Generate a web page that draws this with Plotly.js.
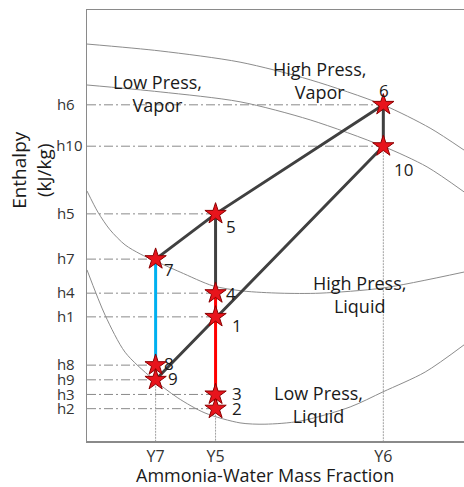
<!DOCTYPE html>
<html>
<head>
<meta charset="utf-8">
<script src="https://cdn.plot.ly/plotly-3.0.1.min.js"></script>
<style>html,body{margin:0;padding:0;background:#fff;}#chart{width:464px;height:487px;}</style>
</head>
<body>
<div id="chart"></div>
<script>
// ---- data (arbitrary schematic units 0..100) ----
const pointNames = ['1','2','3','4','5','6','7','8','9','10'];
const pointX = [34.1, 34.1, 34.1, 34.1, 34.1, 78.6, 18.2, 18.2, 18.2, 78.6];
const pointH = [28.8, 7.5, 10.8, 34.3, 52.7, 78.0, 42.2, 17.6, 14.2, 68.4];

const xTickLabels = ['Y7', 'Y5', 'Y6'];
const xTickPoint = [7, 5, 6];           // point whose concentration gives the tick
const yTickLabels = ['h6', 'h10', 'h5', 'h7', 'h4', 'h1', 'h8', 'h9', 'h3', 'h2'];

// saturation curves
const hpVaporX = [0, 19.4, 40.6, 59.2, 78.5, 91.0, 100];
const hpVaporY = [92.1, 90.5, 87.9, 83.8, 78.0, 72.6, 67.5];
const lpVaporX = [0, 19.4, 40.6, 59.2, 78.5, 90.2, 100];
const lpVaporY = [82.6, 81.0, 78.7, 74.5, 68.4, 63.6, 57.8];
const hpLiquidX = [0, 2.9, 6.1, 10.1, 14.1, 18.0, 24.7, 33.4, 41.4, 51.2, 61.8, 78.5, 100];
const hpLiquidY = [58.0, 53.1, 49.0, 45.5, 43.4, 41.8, 39.2, 36.0, 34.8, 34.3, 34.3, 35.5, 39.2];
const lpLiquidX = [0, 4.8, 10.1, 17.2, 24.1, 31.3, 40.6, 47.2, 56.5, 69.8, 78.5, 89.7, 100];
const lpLiquidY = [39.7, 29.2, 20.6, 14.6, 10.0, 6.5, 4.2, 3.9, 4.6, 7.9, 11.4, 16.0, 22.3];

// region labels
const regionTexts = ['Low Press,<br>Vapor', 'High Press,<br>Vapor', 'High Press,<br>Liquid', 'Low Press,<br>Liquid'];
const regionX = [18.7, 61.8, 72.4, 61.3];
const regionY = [80.7, 83.6, 34.1, 8.4];

// cycle connections (point numbers)
const darkPaths = [[9, 10, 6, 5, 7], [5, 4]];
const redPath = [4, 2];
const bluePath = [7, 8];
const dropPoints = [9, 2, 10];

// ---- styling ----
const labelOffsets = [[21,9],[21,0],[21,-1],[15,0],[15,13],[1,-14],[13,10],[13,-2],[17,-1],[20,23]];
const FONT = 'Open Sans, sans-serif';

function px(n){ return pointX[n-1]; }
function py(n){ return pointH[n-1]; }
function pathXY(path){ return {x: path.map(px), y: path.map(py)}; }

const curveStyle = {color:'#8c8c8c', width:1, shape:'spline', smoothing:0.8};
const traces = [];
[[hpVaporX,hpVaporY],[lpVaporX,lpVaporY],[hpLiquidX,hpLiquidY],[lpLiquidX,lpLiquidY]].forEach(c=>{
  traces.push({x:c[0], y:c[1], mode:'lines', line:curveStyle, hoverinfo:'skip', showlegend:false});
});

// horizontal guide lines from the axis to each point
const gx=[], gy=[];
yTickLabels.forEach(l=>{ const n=+l.slice(1); gx.push(0, px(n), null); gy.push(py(n), py(n), null); });
traces.push({x:gx, y:gy, mode:'lines', line:{color:'#8a8a8a', width:1, dash:'9px,3px,2px,3px'}, hoverinfo:'skip', showlegend:false});

// vertical drop lines
const dx=[], dy=[];
dropPoints.forEach(n=>{ dx.push(px(n), px(n), null); dy.push(py(n), 0, null); });
traces.push({x:dx, y:dy, mode:'lines', line:{color:'#a0a0a0', width:1, dash:'2px,1px'}, hoverinfo:'skip', showlegend:false});

// cycle lines
darkPaths.forEach(p=>{ const d=pathXY(p); traces.push({x:d.x, y:d.y, mode:'lines', line:{color:'#404040', width:3}, hoverinfo:'skip', showlegend:false}); });
(()=>{ const d=pathXY(redPath); traces.push({x:d.x, y:d.y, mode:'lines', line:{color:'#ff0000', width:3}, hoverinfo:'skip', showlegend:false}); })();
(()=>{ const d=pathXY(bluePath); traces.push({x:d.x, y:d.y, mode:'lines', line:{color:'#00b0f0', width:3}, hoverinfo:'skip', showlegend:false}); })();

// state points
traces.push({x:pointX, y:pointH, mode:'markers', marker:{symbol:'star', size:16, color:'#e8141c', line:{color:'#8b0000', width:1}}, text:pointNames, hoverinfo:'text', showlegend:false});

const annotations = [];
pointNames.forEach((t,i)=>{
  annotations.push({x:pointX[i], y:pointH[i], xref:'x', yref:'y', text:t, showarrow:false, xanchor:'center', yanchor:'middle',
    xshift:labelOffsets[i][0], yshift:-labelOffsets[i][1], font:{family:FONT, size:17, color:'#1a1a1a'}});
});
regionTexts.forEach((t,i)=>{
  annotations.push({x:regionX[i], y:regionY[i], xref:'x', yref:'y', text:t, showarrow:false, xanchor:'center', yanchor:'middle',
    font:{family:FONT, size:18, color:'#1a1a1a'}});
});
annotations.push({x:-0.146, y:0.629, xref:'paper', yref:'paper', text:'Enthalpy<br>(kJ/kg)', textangle:-90, showarrow:false,
  xanchor:'center', yanchor:'middle', font:{family:FONT, size:19, color:'#1a1a1a'}});
annotations.push({x:0.472, y:-0.078, xref:'paper', yref:'paper', text:'Ammonia-Water Mass Fraction', showarrow:false,
  xanchor:'center', yanchor:'middle', font:{family:FONT, size:18, color:'#1a1a1a'}});

const yTickVals = yTickLabels.map(l=>py(+l.slice(1)));
const yTickText = yTickLabels.map(l=> l.length===2 ? l+'\u00a0\u00a0' : l);

const layout = {
  width:464, height:487,
  margin:{l:87, r:0, t:10, b:46, pad:0},
  paper_bgcolor:'#ffffff', plot_bgcolor:'#ffffff',
  showlegend:false,
  font:{family:FONT, color:'#404040'},
  xaxis:{range:[0,100], showgrid:false, zeroline:false, showline:true, linecolor:'#8a8a8a', linewidth:1.5, mirror:true,
    ticks:'', tickvals:xTickPoint.map(px), ticktext:xTickLabels, tickfont:{family:FONT, size:16, color:'#333333'}, fixedrange:true},
  yaxis:{range:[0,100], showgrid:false, zeroline:false, showline:true, linecolor:'#8a8a8a', linewidth:1.5,
    ticks:'', tickvals:yTickVals, ticktext:yTickText, tickfont:{family:FONT, size:15, color:'#333333'}, fixedrange:true},
  annotations:annotations
};

Plotly.newPlot('chart', traces, layout, {displayModeBar:false, staticPlot:true});
</script>
</body>
</html>
